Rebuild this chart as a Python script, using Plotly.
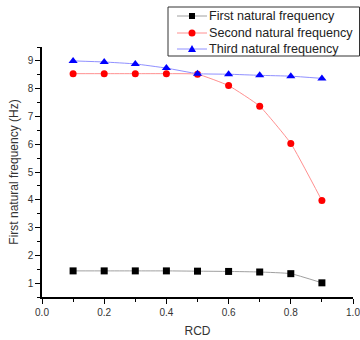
import plotly.graph_objects as go

rcd = [0.1, 0.2, 0.3, 0.4, 0.5, 0.6, 0.7, 0.8, 0.9]
first = [1.44, 1.44, 1.44, 1.44, 1.43, 1.42, 1.40, 1.34, 1.01]
second = [8.54, 8.54, 8.54, 8.54, 8.52, 8.11, 7.37, 6.03, 3.97]
third = [9.00, 8.96, 8.89, 8.74, 8.54, 8.52, 8.48, 8.45, 8.37]
names = ["First natural frequency", "Second natural frequency", "Third natural frequency"]
x_ticks = [0.0, 0.2, 0.4, 0.6, 0.8, 1.0]
y_ticks = [1, 2, 3, 4, 5, 6, 7, 8, 9]

line_colors = ["#a0a0a0", "#ff9090", "#9090ff"]
marker_colors = ["black", "red", "blue"]
marker_symbols = ["square", "circle", "triangle-up"]

fig = go.Figure()
for ys, nm, lc, mc, ms in zip([first, second, third], names, line_colors, marker_colors, marker_symbols):
    fig.add_trace(go.Scatter(x=rcd, y=ys, name=nm, mode="lines+markers",
                             line=dict(color=lc, width=1, shape="spline", smoothing=0.4),
                             marker=dict(symbol=ms, color=mc, size=8 if ms == "triangle-up" else 7)))

# plot-area geometry in pixels (for the hand-drawn legend box)
L, R, T, B = 42, 7, 47, 43
W, H = 360, 340
PW, PH = W - L - R, H - T - B


def px(x):
    return (x - L) / PW


def py(y):
    return (H - B - y) / PH


shapes = [dict(type="rect", xref="paper", yref="paper", x0=px(168), x1=px(359.5), y0=py(56), y1=py(7),
               line=dict(color="#333", width=1), fillcolor="white", layer="above")]
annotations = []
rows = [16, 33, 49]
for i, (yy, nm) in enumerate(zip(rows, names)):
    shapes.append(dict(type="line", xref="paper", yref="paper", x0=px(177), x1=px(207), y0=py(yy), y1=py(yy),
                       line=dict(color=line_colors[i], width=1), layer="above"))
    cx = 192
    if i == 0:
        shapes.append(dict(type="rect", xref="paper", yref="paper", x0=px(cx - 3), x1=px(cx + 3),
                           y0=py(yy + 3), y1=py(yy - 3), line=dict(width=0), fillcolor="black", layer="above"))
    elif i == 1:
        shapes.append(dict(type="circle", xref="paper", yref="paper", x0=px(cx - 3.5), x1=px(cx + 3.5),
                           y0=py(yy + 3.5), y1=py(yy - 3.5), line=dict(width=0), fillcolor="red", layer="above"))
    else:
        shapes.append(dict(type="path", xref="paper", yref="paper",
                           path=f"M {px(cx-4)} {py(yy+3)} L {px(cx+4)} {py(yy+3)} L {px(cx)} {py(yy-4)} Z",
                           line=dict(width=0), fillcolor="blue", layer="above"))
    annotations.append(dict(xref="paper", yref="paper", x=px(208), y=py(yy), text=nm, showarrow=False,
                            xanchor="left", yanchor="middle", borderpad=0,
                            font=dict(family="Arial, Liberation Sans", size=12.6, color="#222")))

axis_common = dict(showline=True, linecolor="black", linewidth=1.5, ticks="outside",
                   ticklen=5, tickwidth=1, tickcolor="black", showgrid=False, zeroline=False,
                   ticklabeloverflow="allow",
                   tickfont=dict(family="Arial, Liberation Sans", size=10, color="#333"))

fig.update_layout(
    width=W, height=H,
    margin=dict(l=L, r=R, t=T, b=B, autoexpand=False),
    paper_bgcolor="white", plot_bgcolor="white",
    font=dict(family="Arial, Liberation Sans", size=12, color="#333"),
    xaxis=dict(range=[0, 1], tickvals=x_ticks, ticktext=[f"{v:.1f}" for v in x_ticks],
               minor=dict(dtick=0.1, ticks="outside", ticklen=3, tickcolor="black"),
               title=dict(text="RCD", font=dict(size=12), standoff=10), **axis_common),
    yaxis=dict(range=[0.5, 9.5], tickvals=y_ticks,
               minor=dict(tickvals=[v + 0.5 for v in [0] + y_ticks], ticks="outside", ticklen=3, tickcolor="black"),
               title=dict(text="First natural frequency (Hz)", font=dict(size=12), standoff=6), **axis_common),
    showlegend=False,
    shapes=shapes,
    annotations=annotations,
)
fig.write_html("out.html")
